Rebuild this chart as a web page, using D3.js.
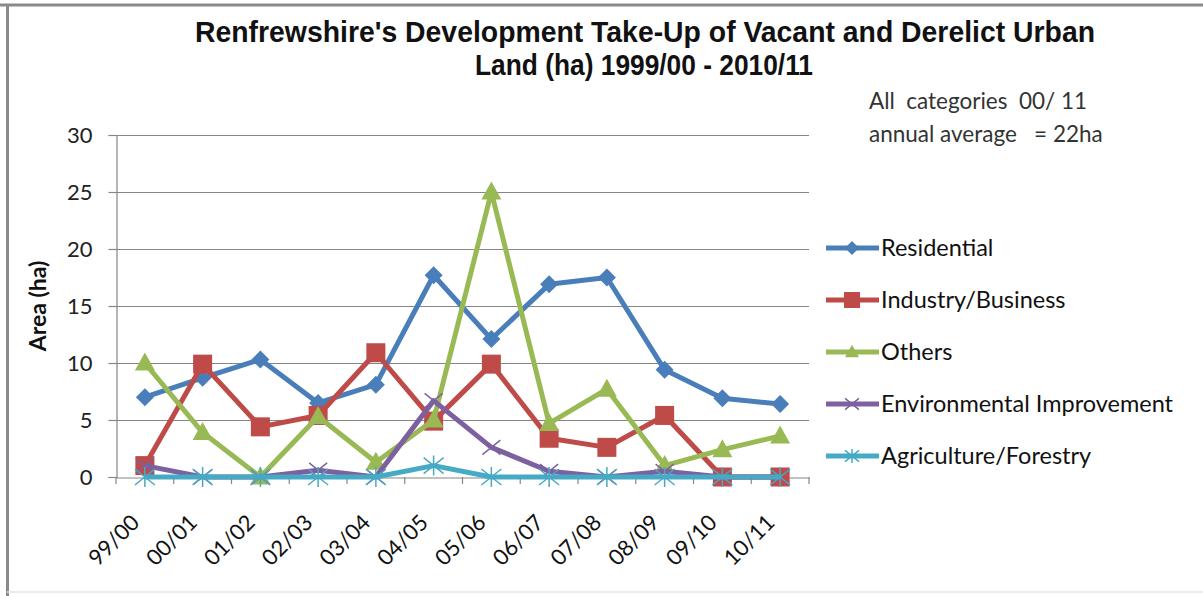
<!DOCTYPE html>
<html>
<head>
<meta charset="utf-8">
<script src="https://cdn.jsdelivr.net/npm/d3@7"></script>
<style>
  body { margin: 0; background: #fff; }
  svg { display: block; font-family: Lato, "Open Sans", sans-serif; }
</style>
</head>
<body>
<svg id="chart" width="1203" height="596"></svg>
<script>
const years = ["99/00", "00/01", "01/02", "02/03", "03/04", "04/05", "05/06", "06/07", "07/08", "08/09", "09/10", "10/11"];
const residential = [7.0, 8.7, 10.3, 6.5, 8.1, 17.7, 12.1, 16.9, 17.5, 9.4, 6.9, 6.4];
const industry = [1.0, 9.9, 4.4, 5.4, 10.9, 4.9, 9.9, 3.4, 2.6, 5.4, 0, 0];
const others = [10.0, 3.9, 0, 5.3, 1.3, 5.0, 25.0, 4.7, 7.7, 1.0, 2.4, 3.6];
const environmental = [1.0, 0, 0, 0.6, 0, 6.7, 2.6, 0.5, 0, 0.5, 0, 0];
const agriculture = [0, 0, 0, 0, 0, 1.0, 0, 0, 0, 0, 0, 0];
const yTicks = [0, 5, 10, 15, 20, 25, 30];

const series = [
  { name: "Residential", values: residential, color: "#4a7ebb", marker: "diamond" },
  { name: "Industry/Business", values: industry, color: "#be4b48", marker: "square" },
  { name: "Others", values: others, color: "#98b954", marker: "triangle" },
  { name: "Environmental Improvement", values: environmental, color: "#7d60a0", marker: "x" },
  { name: "Agriculture/Forestry", values: agriculture, color: "#46aac5", marker: "star" }
];

const svg = d3.select("#chart");

// frame
svg.append("line").attr("x1", 0).attr("x2", 1203).attr("y1", 5).attr("y2", 5)
  .attr("stroke", "#8a8a8a").attr("stroke-width", 3);
svg.append("line").attr("x1", 7.5).attr("x2", 7.5).attr("y1", 5).attr("y2", 596)
  .attr("stroke", "#8a8a8a").attr("stroke-width", 3);
svg.append("line").attr("x1", 7).attr("x2", 1203).attr("y1", 592).attr("y2", 592)
  .attr("stroke", "#e4e4e4").attr("stroke-width", 1.5);

const plotL = 116, plotR = 809, plotT = 135, plotB = 477;

const x = d3.scaleBand().domain(years).range([plotL, plotR]);
const y = d3.scaleLinear().domain([0, 30]).range([plotB, plotT]);

// gridlines
svg.append("g")
  .selectAll("line")
  .data(yTicks.filter(d => d > 0))
  .enter().append("line")
  .attr("x1", plotL).attr("x2", plotR)
  .attr("y1", d => y(d) + 0.5).attr("y2", d => y(d) + 0.5)
  .attr("stroke", "#868686").attr("stroke-width", 1.2);

// y axis
const yAxis = svg.append("g")
  .attr("transform", `translate(${plotL + 0.5},0)`)
  .call(d3.axisLeft(y).tickValues(yTicks).tickSize(8).tickPadding(16));
yAxis.select(".domain").attr("stroke", "#868686").attr("stroke-width", 1.2);
yAxis.selectAll(".tick line").attr("stroke", "#868686").attr("stroke-width", 1.2);
yAxis.selectAll(".tick text")
  .attr("font-size", 22).attr("font-family", "Lato, sans-serif").attr("fill", "#222")
  .attr("dy", "0.35em");

// x axis
const xAxis = svg.append("g")
  .attr("transform", `translate(0,${plotB + 0.5})`)
  .call(d3.axisBottom(x).tickSize(0).tickFormat(""));
xAxis.select(".domain").attr("stroke", "#868686").attr("stroke-width", 1.2);
svg.append("g").selectAll("line")
  .data(d3.range(years.length + 1))
  .enter().append("line")
  .attr("x1", i => plotL + i * x.step()).attr("x2", i => plotL + i * x.step())
  .attr("y1", plotB).attr("y2", plotB + 7)
  .attr("stroke", "#868686").attr("stroke-width", 1.2);

svg.append("g").selectAll("text")
  .data(years)
  .enter().append("text")
  .attr("transform", d => `translate(${x(d) + x.bandwidth() / 2 - 15},${plotB + 36}) rotate(-45)`)
  .attr("text-anchor", "end")
  .attr("dy", "0.7em")
  .attr("font-size", 22)
  .attr("fill", "#111")
  .text(d => d);

// axis title
svg.append("text")
  .attr("transform", `translate(46,${(plotT + plotB) / 2}) rotate(-90)`)
  .attr("text-anchor", "middle")
  .attr("font-size", 23)
  .attr("font-weight", "bold")
  .attr("fill", "#111")
  .text("Area (ha)");

// title
const title = svg.append("text")
  .attr("font-family", "'Liberation Sans Narrow', 'Liberation Sans', Arial, sans-serif")
  .attr("font-weight", "bold")
  .attr("font-size", 30)
  .attr("fill", "#111")
  .attr("text-anchor", "middle");
title.append("tspan").attr("x", 645).attr("y", 42)
  .attr("textLength", 900).attr("lengthAdjust", "spacingAndGlyphs")
  .text("Renfrewshire's Development Take-Up of Vacant and Derelict Urban");
title.append("tspan").attr("x", 644).attr("y", 75)
  .attr("textLength", 338).attr("lengthAdjust", "spacingAndGlyphs")
  .text("Land (ha) 1999/00 - 2010/11");

// annotation
const note = svg.append("text").attr("font-size", 22.5).attr("fill", "#333")
  .style("white-space", "pre");
note.append("tspan").attr("x", 869).attr("y", 109).text("All  categories  00/ 11");
note.append("tspan").attr("x", 869).attr("y", 142).text("annual average   = 22ha");

// markers
function drawMarker(g, type, color, size) {
  const s = size;
  if (type === "diamond") {
    g.append("path").attr("d", `M0,${-s}L${s},0L0,${s}L${-s},0Z`).attr("fill", color);
  } else if (type === "square") {
    g.append("rect").attr("x", -s).attr("y", -s).attr("width", 2 * s).attr("height", 2 * s)
      .attr("fill", color);
  } else if (type === "triangle") {
    g.append("path").attr("d", `M0,${-s * 1.05}L${s},${s * 0.75}L${-s},${s * 0.75}Z`).attr("fill", color);
  } else if (type === "x") {
    g.append("path").attr("d", `M${-s},${-s * 0.8}L${s},${s * 0.8}M${-s},${s * 0.8}L${s},${-s * 0.8}`)
      .attr("stroke", color).attr("stroke-width", 1.5);
  } else if (type === "star") {
    g.append("path").attr("d", `M${-s},${-s * 0.8}L${s},${s * 0.8}M${-s},${s * 0.8}L${s},${-s * 0.8}M0,${-s}L0,${s}`)
      .attr("stroke", color).attr("stroke-width", 1.5);
  }
}

const line = d3.line()
  .x((d, i) => x(years[i]) + x.bandwidth() / 2)
  .y(d => y(d));

const markerSize = { diamond: 9, square: 9.5, triangle: 10, x: 9, star: 10 };

series.forEach(s => {
  const g = svg.append("g");
  g.append("path")
    .datum(s.values)
    .attr("fill", "none")
    .attr("stroke", s.color)
    .attr("stroke-width", 5)
    .attr("stroke-linejoin", "round")
    .attr("d", line);
  s.values.forEach((v, i) => {
    const m = g.append("g")
      .attr("transform", `translate(${x(years[i]) + x.bandwidth() / 2},${y(v)})`);
    drawMarker(m, s.marker, s.color, markerSize[s.marker]);
  });
});

// legend
const legend = svg.append("g");
series.forEach((s, i) => {
  const ly = 248 + i * 52;
  const g = legend.append("g").attr("transform", `translate(0,${ly})`);
  g.append("line").attr("x1", 826).attr("x2", 879).attr("y1", 0).attr("y2", 0)
    .attr("stroke", s.color).attr("stroke-width", 5);
  const m = g.append("g").attr("transform", "translate(852,0)");
  drawMarker(m, s.marker, s.color, s.marker === "square" ? 8 : 7);
  g.append("text").attr("x", 881).attr("y", 0).attr("dy", "0.35em")
    .attr("font-size", 23.5).attr("fill", "#111").text(s.name);
});
</script>
</body>
</html>
